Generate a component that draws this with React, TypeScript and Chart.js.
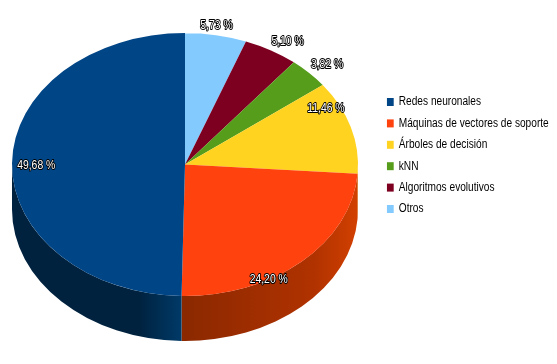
import React, { useEffect, useRef } from "react";
import { Chart, registerables } from "chart.js";

Chart.register(...registerables);

// Slices run clockwise from 12 o'clock; the legend shows them reversed.
const categories = [
  "Otros",
  "Algoritmos evolutivos",
  "kNN",
  "Árboles de decisión",
  "Máquinas de vectores de soporte",
  "Redes neuronales",
];
const shares = [5.73, 5.1, 3.82, 11.46, 24.2, 49.68];
const valueLabels = ["5,73 %", "5,10 %", "3,82 %", "11,46 %", "24,20 %", "49,68 %"];
const topColors = ["#83caff", "#7e0021", "#579d1c", "#ffd320", "#ff420e", "#004586"];
const sideStart = ["#5a8cb0", "#57001a", "#3c6d13", "#d8a810", "#d24000", "#003a68"];
const sideMid = ["#5a8cb0", "#57001a", "#3c6d13", "#d8a810", "#b03200", "#00223f"];
const sideEnd = ["#5a8cb0", "#57001a", "#3c6d13", "#d8a810", "#8a2800", "#00223f"];

// radial factor, then pixel nudge, for each value label
const labelRadial = [1.08, 1.1, 1.12, 0.85, 1.0, 0.86];
const labelNudgeX = [-2, 8, 3, 0, -33, 0];
const labelNudgeY = [1, 2, 2, -24, 18, 2];

const PIE = { cx: 185, cy: 164.5, rx: 173, ry: 131.5, depth: 45 };
const LEGEND = { left: 379, squeeze: 0.845 };
const LABEL_SQUEEZE = 0.8;

const pie3d = {
  id: "pie3d",
  afterLayout(chart: any) {
    const legend = chart.legend;
    if (legend && !legend.__squeezed) {
      legend.__squeezed = true;
      const draw = legend.draw.bind(legend);
      legend.draw = (...args: any[]) => {
        const { ctx } = chart;
        ctx.save();
        ctx.translate(LEGEND.left, 0);
        ctx.scale(LEGEND.squeeze, 1);
        ctx.translate(-legend.left, 0);
        draw(...args);
        ctx.restore();
      };
    }
  },
  beforeDatasetsDraw(chart: any) {
    const { ctx } = chart;
    const arcs = chart.getDatasetMeta(0).data;
    const base = arcs[0];
    const sx = PIE.rx / base.outerRadius;
    const sy = PIE.ry / base.outerRadius;
    ctx.save();
    arcs.forEach((arc: any, i: number) => {
      const a = Math.max(arc.startAngle, 0);
      const b = Math.min(arc.endAngle, Math.PI);
      if (b <= a) return;
      const grad = ctx.createLinearGradient(
        PIE.cx + PIE.rx * Math.cos(a), 0,
        PIE.cx + PIE.rx * Math.cos(b), 0
      );
      grad.addColorStop(0, sideStart[i]);
      grad.addColorStop(0.25, sideMid[i]);
      grad.addColorStop(1, sideEnd[i]);
      ctx.fillStyle = grad;
      ctx.beginPath();
      ctx.ellipse(PIE.cx, PIE.cy, PIE.rx, PIE.ry, 0, a, b, false);
      ctx.ellipse(PIE.cx, PIE.cy + PIE.depth, PIE.rx, PIE.ry, 0, b, a, true);
      ctx.closePath();
      ctx.fill();
    });
    ctx.restore();
    ctx.save();
    ctx.translate(PIE.cx, PIE.cy);
    ctx.scale(sx, sy);
    ctx.translate(-base.x, -base.y);
  },
  afterDatasetsDraw(chart: any) {
    const { ctx } = chart;
    ctx.restore();
    const arcs = chart.getDatasetMeta(0).data;
    ctx.save();
    ctx.font = '13px "Liberation Sans", sans-serif';
    ctx.textAlign = "center";
    ctx.textBaseline = "middle";
    ctx.lineJoin = "round";
    arcs.forEach((arc: any, i: number) => {
      const mid = (arc.startAngle + arc.endAngle) / 2;
      const x = PIE.cx + PIE.rx * labelRadial[i] * Math.cos(mid) + labelNudgeX[i];
      const y = PIE.cy + PIE.ry * labelRadial[i] * Math.sin(mid) + labelNudgeY[i];
      ctx.save();
      ctx.translate(x, y);
      ctx.scale(LABEL_SQUEEZE, 1);
      ctx.strokeStyle = "#000000";
      ctx.lineWidth = 2;
      ctx.strokeText(valueLabels[i], 0, 0);
      ctx.fillStyle = "#ffffff";
      ctx.fillText(valueLabels[i], 0, 0);
      ctx.restore();
    });
    ctx.restore();
  },
};

export default function App() {
  const ref = useRef<HTMLCanvasElement>(null);
  useEffect(() => {
    const chart = new Chart(ref.current as HTMLCanvasElement, {
      type: "pie",
      data: {
        labels: categories,
        datasets: [
          {
            data: shares,
            backgroundColor: topColors,
            borderWidth: 0,
            clip: false,
          } as any,
        ],
      },
      options: {
        responsive: false,
        animation: false,
        rotation: 0,
        layout: { padding: { left: 0, right: 6, top: 0, bottom: 53 } },
        plugins: {
          legend: {
            position: "right",
            reverse: true,
            labels: {
              boxWidth: 8,
              boxHeight: 8,
              padding: 9.4,
              color: "#000000",
              font: { family: '"Liberation Sans", sans-serif', size: 12 },
            },
          },
          tooltip: { enabled: false },
        },
      } as any,
      plugins: [pie3d],
    });
    return () => chart.destroy();
  }, []);
  return (
    <div style={{ position: "absolute", left: 0, top: 0, width: 557, height: 364 }}>
      <canvas ref={ref} width={557} height={364} style={{ display: "block" }} />
    </div>
  );
}
